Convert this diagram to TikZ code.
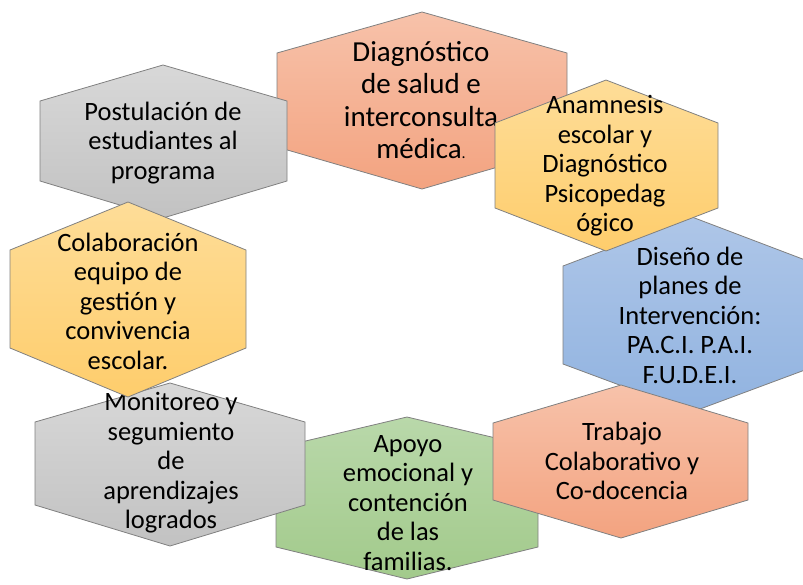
\documentclass[tikz,border=0pt]{standalone}
\usepackage{fontspec}
\setmainfont{Carlito}
\definecolor{salT}{RGB}{247,194,170}
\definecolor{salB}{RGB}{243,163,128}
\definecolor{yelT}{RGB}{254,221,152}
\definecolor{yelB}{RGB}{254,205,108}
\definecolor{bluT}{RGB}{174,198,232}
\definecolor{bluB}{RGB}{145,179,224}
\definecolor{grnT}{RGB}{185,216,170}
\definecolor{grnB}{RGB}{162,202,139}
\definecolor{gryT}{RGB}{216,216,216}
\definecolor{gryB}{RGB}{194,194,194}
\definecolor{edge}{RGB}{128,128,128}
\tikzset{
  hexbox/.style={draw=edge, line width=0.8pt, line join=miter},
  salmon/.style={hexbox, top color=salT, bottom color=salB},
  yellow/.style={hexbox, top color=yelT, bottom color=yelB},
  blue/.style={hexbox, top color=bluT, bottom color=bluB},
  green/.style={hexbox, top color=grnT, bottom color=grnB},
  grey/.style={hexbox, top color=gryT, bottom color=gryB},
  lbl/.style={align=center, inner sep=0pt, text=black, font=\fontsize{26.5}{29.5}\selectfont},
  lblbig/.style={lbl, font=\fontsize{29}{32.5}\selectfont}
}
% #1 style, #2 cx, #3 xl, #4 xr, #5 ytop, #6 yside1, #7 yside2, #8 ybottom
\newcommand{\hexa}[8]{\path[#1] (#2,#5) -- (#4,#6) -- (#4,#7) -- (#2,#8) -- (#3,#7) -- (#3,#6) -- cycle;}
\begin{document}
\begin{tikzpicture}[x=1pt, y=-1pt]
\clip (0,0) rectangle (803,584);
\useasboundingbox (0,0) rectangle (803,584);
% Diseno
\hexa{blue}{692}{563}{821}{217}{266}{364}{412}
\node[lbl] (dis) at (690,315) {Diseño de\\planes de\\Intervención:\\PA.C.I. P.A.I.\\F.U.D.E.I.};
% Apoyo
\hexa{green}{407}{276}{538}{417}{448}{547}{579}
\node[lbl] (apo) at (408,503) {Apoyo\\emocional y\\contención\\de las\\familias.};
% Diagnostico
\hexa{salmon}{422}{277}{567}{12}{53}{147}{189}
\node[lblbig] (dia) at (421,100) {Diagnóstico\\de salud e\\interconsulta\\médica{\fontsize{16}{16}\selectfont .}};
% Postulacion
\hexa{grey}{163}{40}{287}{65}{101}{181}{218}
\node[lbl] (pos) at (163,143) {Postulación de\\estudiantes al\\programa};
% Anamnesis
\hexa{yellow}{606}{495}{718}{80}{123}{208}{251}
\node[lbl] (ana) at (605,166) {Anamnesis\\escolar y\\Diagnóstico\\Psicopedag\\ógico};
% Trabajo
\hexa{salmon}{621}{493}{748}{385}{423}{500}{538}
\node[lbl] (tra) at (622,461) {Trabajo\\Colaborativo y\\Co-docencia};
% Monitoreo
\hexa{grey}{170}{35}{305}{383}{422}{505}{546}
\node[lbl] (mon) at (171,463) {Monitoreo y\\segumiento\\ de\\aprendizajes\\logrados};
% Colaboracion
\hexa{yellow}{128}{10}{246}{202}{250}{348}{397}
\node[lbl] (col) at (128,301) {Colaboración\\equipo de\\gestión y\\convivencia\\escolar.};
\end{tikzpicture}
\end{document}
